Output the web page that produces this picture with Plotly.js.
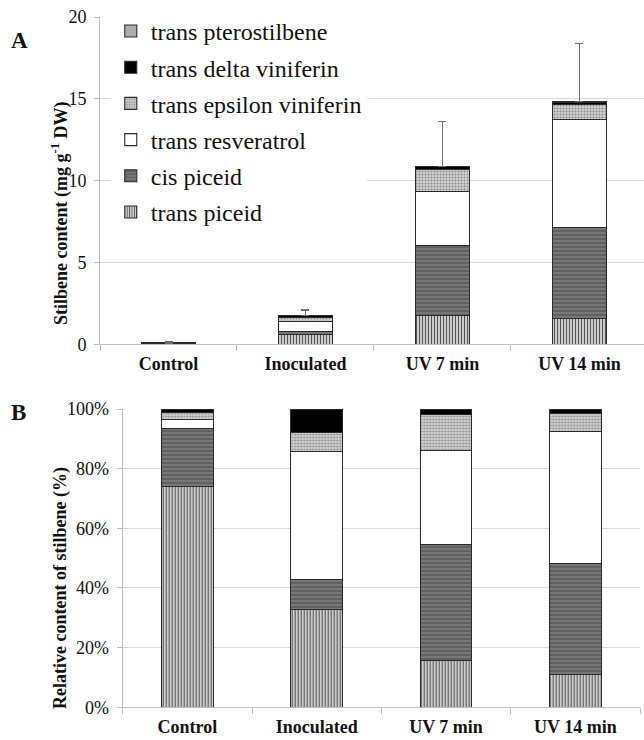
<!DOCTYPE html>
<html>
<head>
<meta charset="utf-8">
<script src="https://cdn.plot.ly/plotly-3.0.1.min.js"></script>
<style>
  html, body { margin: 0; padding: 0; background: #fff; }
  #chart { width: 644px; height: 740px; }
</style>
</head>
<body>
<div id="chart"></div>
<script>
// Treatments on the x axis
const categories = ['Control', 'Inoculated', 'UV 7 min', 'UV 14 min'];

// Panel A: stilbene content, mg g-1 DW
const transPiceid      = [0.074, 0.62, 1.74, 1.60];
const cisPiceid        = [0.019, 0.15, 4.28, 5.54];
const transResveratrol = [0.003, 0.62, 3.33, 6.59];
const epsilonViniferin = [0.002, 0.25, 1.36, 0.92];
const deltaViniferin   = [0.001, 0.13, 0.14, 0.16];
const pterostilbene    = [0.001, 0.01, 0.02, 0.02];
const totalErrorPlus   = [0.05, 0.32, 2.76, 3.55];

// Panel B: relative content of each stilbene, %
const transPiceidPct      = [74.1, 32.8, 15.6, 11.1];
const cisPiceidPct        = [19.4, 9.9, 39.1, 37.2];
const transResveratrolPct = [2.9, 43.2, 31.3, 44.3];
const epsilonViniferinPct = [2.4, 6.3, 12.3, 6.0];
const deltaViniferinPct   = [0.9, 7.6, 1.5, 1.2];
const pterostilbenePct    = [0.3, 0.2, 0.2, 0.2];

const yTicksA = [0, 5, 10, 15, 20];
const yTicksB = [0, 20, 40, 60, 80, 100];

const FONT = "'Liberation Serif', 'Times New Roman', serif";
const OUTLINE = {color: '#2b2b2b', width: 1.1};

// Fill style for each compound
const styles = [
  {name: 'trans piceid', pattern: {shape: '|', fgcolor: '#555555', bgcolor: '#d4d4d4', size: 3, solidity: 0.38}, color: '#d4d4d4'},
  {name: 'cis piceid', pattern: {shape: '-', fgcolor: '#5a5a5a', bgcolor: '#777777', size: 4, solidity: 0.4}, color: '#777777'},
  {name: 'trans resveratrol', pattern: {shape: ''}, color: '#ffffff'},
  {name: 'trans epsilon viniferin', pattern: {shape: '.', fgcolor: '#8a8a8a', bgcolor: '#d2d2d2', size: 3, solidity: 0.35}, color: '#d2d2d2'},
  {name: 'trans delta viniferin', pattern: {shape: ''}, color: '#000000'},
  {name: 'trans pterostilbene', pattern: {shape: ''}, color: '#acacac'}
];

const seriesA = [transPiceid, cisPiceid, transResveratrol, epsilonViniferin, deltaViniferin, pterostilbene];
const seriesB = [transPiceidPct, cisPiceidPct, transResveratrolPct, epsilonViniferinPct, deltaViniferinPct, pterostilbenePct];

const traces = [];
seriesA.forEach((vals, i) => {
  const s = styles[i];
  const t = {
    type: 'bar', x: categories, y: vals, name: s.name,
    xaxis: 'x', yaxis: 'y', width: 0.4,
    legendgroup: 'g' + i, legendrank: seriesA.length - i,
    marker: {color: s.color, line: OUTLINE, pattern: s.pattern},
    hoverinfo: 'skip'
  };
  if (i === seriesA.length - 1) {
    // one-sided error bar on the stack total
    t.error_y = {type: 'data', array: totalErrorPlus, arrayminus: [0, 0, 0, 0], symmetric: false,
                 color: '#6e6e6e', thickness: 1.5, width: 4};
  }
  traces.push(t);
});
seriesB.forEach((vals, i) => {
  const s = styles[i];
  traces.push({
    type: 'bar', x: categories, y: vals, name: s.name,
    xaxis: 'x2', yaxis: 'y2', width: 0.4, showlegend: false,
    marker: {color: s.color, line: OUTLINE, pattern: s.pattern},
    hoverinfo: 'skip'
  });
});

const axisLine = '#bdbdbd';
const gridCol = '#d9d9d9';

const layout = {
  width: 644, height: 740,
  margin: {l: 0, r: 0, t: 0, b: 0},
  paper_bgcolor: '#fff', plot_bgcolor: 'rgba(0,0,0,0)',
  barmode: 'stack',
  font: {family: FONT, size: 18, color: '#111'},
  showlegend: true,
  legend: {
    x: 0.172, y: 0.988, xanchor: 'left', yanchor: 'top',
    bgcolor: '#ffffff', borderwidth: 0,
    traceorder: 'grouped', tracegroupgap: 2,
    font: {family: FONT, size: 24, color: '#111'},
    itemclick: false, itemdoubleclick: false
  },
  xaxis: {
    domain: [100 / 644, 1], anchor: 'y', range: [-0.5, 3.471],
    showline: true, linecolor: axisLine, linewidth: 1,
    ticks: 'outside', tickson: 'boundaries', ticklen: 6, tickcolor: axisLine,
    ticklabelstandoff: 3,
    tickfont: {family: FONT, size: 18, color: '#111', weight: 'bold'},
    showgrid: false, fixedrange: true
  },
  yaxis: {
    domain: [1 - 344.4 / 740, 1 - 17 / 740], anchor: 'x', range: [0, 20],
    tickvals: yTicksA, ticktext: yTicksA.map(String),
    showline: true, linecolor: axisLine, linewidth: 1,
    ticks: 'outside', ticklen: 5, tickcolor: axisLine, ticklabelstandoff: 4,
    tickfont: {family: FONT, size: 18, color: '#111'},
    showgrid: false, zeroline: false,
    minor: {tickvals: [5, 10, 15], showgrid: true, gridcolor: gridCol, gridwidth: 1, ticks: ''},
    fixedrange: true
  },
  xaxis2: {
    domain: [122.7 / 644, 640 / 644], anchor: 'y2', range: [-0.5, 3.5],
    showline: true, linecolor: axisLine, linewidth: 1,
    ticks: 'outside', tickson: 'boundaries', ticklen: 6, tickcolor: axisLine,
    ticklabelstandoff: 3,
    tickfont: {family: FONT, size: 18, color: '#111', weight: 'bold'},
    showgrid: false, fixedrange: true
  },
  yaxis2: {
    domain: [1 - 707.3 / 740, 1 - 409 / 740], anchor: 'x2', range: [0, 100],
    tickvals: yTicksB, ticktext: yTicksB.map(v => v + '%'),
    showline: true, linecolor: axisLine, linewidth: 1,
    ticks: 'outside', ticklen: 5, tickcolor: axisLine, ticklabelstandoff: 4,
    tickfont: {family: FONT, size: 18, color: '#111'},
    showgrid: false, zeroline: false,
    minor: {tickvals: [20, 40, 60, 80], showgrid: true, gridcolor: gridCol, gridwidth: 1, ticks: ''},
    fixedrange: true
  },
  annotations: [
    {text: '<b>A</b>', xref: 'paper', yref: 'paper', x: 19 / 644, y: 1 - 41 / 740,
     xanchor: 'center', yanchor: 'middle',
     showarrow: false, font: {family: FONT, size: 23, color: '#111'}},
    {text: '<b>B</b>', xref: 'paper', yref: 'paper', x: 18 / 644, y: 1 - 412 / 740,
     xanchor: 'center', yanchor: 'middle',
     showarrow: false, font: {family: FONT, size: 23, color: '#111'}},
    {text: '<b>Stilbene content (mg g<sup>-1</sup> DW)</b>', xref: 'paper', yref: 'paper',
     x: 60 / 644, y: 1 - 214 / 740, textangle: -90, showarrow: false,
     xanchor: 'center', yanchor: 'middle',
     font: {family: FONT, size: 18, color: '#111'}},
    {text: '<b>Relative content of stilbene (%)</b>', xref: 'paper', yref: 'paper',
     x: 60 / 644, y: 1 - 588 / 740, textangle: -90, showarrow: false,
     xanchor: 'center', yanchor: 'middle',
     font: {family: FONT, size: 18, color: '#111'}}
  ]
};

Plotly.newPlot('chart', traces, layout, {staticPlot: true, displayModeBar: false});
</script>
</body>
</html>
